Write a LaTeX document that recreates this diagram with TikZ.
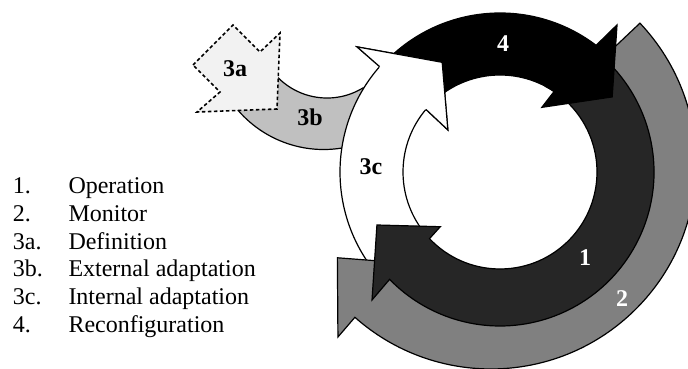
\documentclass[tikz,border=0pt]{standalone}
\usepackage{fontspec}
\setmainfont{Liberation Serif}
\usetikzlibrary{positioning}
\definecolor{opgray}{HTML}{262626}
\definecolor{mongray}{HTML}{808080}
\definecolor{extgray}{HTML}{C0C0C0}
\definecolor{defgray}{HTML}{F2F2F2}
\tikzset{
  band/.style={draw=black, line width=1.2pt, line join=miter, miter limit=20},
  defbox/.style={draw=black, dash pattern=on 3.5pt off 2.5pt, line width=1.6pt, fill=defgray},
  lbl/.style={font=\fontsize{24}{28}\selectfont\bfseries, inner sep=0pt},
  legtxt/.style={font=\fontsize{24}{28}\selectfont, inner sep=0pt, anchor=base west}
}
\begin{document}
\begin{tikzpicture}[x=1pt,y=1pt]
\useasboundingbox (0,0) rectangle (688,369);
% 3b external adaptation
\draw[band, fill=extgray] (270.5,300.4) arc[start angle=215, end angle=301.4, radius=69]
  -- (375,280) -- (360,222) -- (342.1,221) arc[start angle=279.4, end angle=215, radius=113] -- cycle;
% 3a definition
\draw[defbox] (193,304) -- (233,344) -- (260,317) -- (280,336) -- (277,260) -- (197,257) -- (220,277) -- cycle;
\begin{scope}[shift={(500,197)}]
  % 3c internal adaptation
  \draw[band, fill=white] (218:160) arc[start angle=218, end angle=138.8, radius=160]
    -- (138.8:190) -- (117.8:124) -- (141.1:67) -- (139.8:97) arc[start angle=139.8, end angle=218, radius=97] -- cycle;
\end{scope}
\begin{scope}[shift={(491,205)}]
  % 2 monitor
  \draw[band, fill=mongray] (43.4:205) arc[start angle=43.4, end angle=-131.6, radius=205]
    -- (-131.5:231) -- (-148.6:180) -- (-131.5:132) -- (-131.5:145) arc[start angle=-131.5, end angle=43.4, radius=145] -- cycle;
\end{scope}
\begin{scope}[shift={(500,197)}]
  % 1 operation
  \draw[band, fill=opgray] (62:154) arc[start angle=62, end angle=-135.8, radius=154]
    -- (-135:181) -- (-156.7:134) -- (-137.5:81) -- (-136.6:97) arc[start angle=-136.6, end angle=62, radius=97] -- cycle;
  % 4 reconfiguration
  \draw[band, fill=black] (136:159) arc[start angle=136, end angle=52.8, radius=159]
    -- (51.5:188) -- (33.8:135) -- (57.1:77) -- (56.1:97) arc[start angle=56.1, end angle=136, radius=97] -- cycle;
  % head of 3c on top of the tail of 4
  \fill[white] (138.8:190) -- (117.8:124) -- (141.1:67) -- cycle;
  \draw[band] (138.8:160) -- (138.8:190) -- (117.8:124) -- (141.1:67) -- (139.8:97);
\end{scope}
% labels
\node[lbl] (l3a) at (235,300) {3a};
\node[lbl] (l3b) at (310,252) {3b};
\node[lbl] (l3c) at (371,202) {3c};
\node[lbl, text=white] (l4) at (503,325) {4};
\node[lbl, text=white] (l1) at (585,111) {1};
\node[lbl, text=white] (l2) at (622,70) {2};
% legend
\foreach \lno/\ltxt [count=\i] in {1./Operation, 2./Monitor, 3a./Definition, 3b./External adaptation, 3c./Internal adaptation, 4./Reconfiguration}{
  \node[legtxt] (num\i) at (12.7,203.6-27.9*\i) {\lno};
  \node[legtxt] (txt\i) at (68.3,203.6-27.9*\i) {\ltxt};
}
\end{tikzpicture}
\end{document}
